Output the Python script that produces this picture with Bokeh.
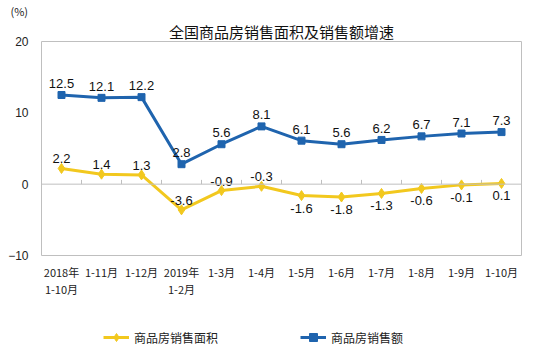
from bokeh.plotting import figure
from bokeh.layouts import column
from bokeh.models import Range1d, FixedTicker, Span, Title, Legend, LegendItem, ColumnDataSource
from bokeh.core.properties import value
from bokeh.embed import file_html
from bokeh.resources import INLINE

categories = ["2018年\n1-10月", "1-11月", "1-12月", "2019年\n1-2月", "1-3月", "1-4月",
              "1-5月", "1-6月", "1-7月", "1-8月", "1-9月", "1-10月"]
area_growth = [2.2, 1.4, 1.3, -3.6, -0.9, -0.3, -1.6, -1.8, -1.3, -0.6, -0.1, 0.1]
sales_growth = [12.5, 12.1, 12.2, 2.8, 5.6, 8.1, 6.1, 5.6, 6.2, 6.7, 7.1, 7.3]
area_label_above = [True, True, True, True, True, True, False, False, False, False, False, False]
y_ticks = [-10, 0, 10, 20]
series_names = ["商品房销售面积", "商品房销售额"]
chart_title = "全国商品房销售面积及销售额增速"
unit_text = "(%)"

GOLD = "#F2C81E"
BLUE = "#1F64AE"
NUM_FONT = "Liberation Sans"
CJK_FONT = "Noto Sans CJK SC"

n = len(categories)
xs = [i + 0.5 for i in range(n)]

p = figure(width=539, height=300, output_backend="svg", toolbar_location=None,
           x_range=Range1d(0, n), y_range=Range1d(-10, 20), title=None,
           min_border_left=41, min_border_right=18, min_border_top=41, min_border_bottom=45)
p.background_fill_color = "white"
p.border_fill_color = "white"
p.outline_line_color = "#BFBFBF"
p.outline_line_width = 1
p.grid.visible = False

main_title = Title(text=chart_title, align="center", text_font=CJK_FONT, text_font_size="15px",
                   text_font_style="normal", text_color="#111111", text_line_height=1.0,
                   standoff=0)
unit = Title(text=unit_text, align="left", offset=-31, text_font=CJK_FONT, text_font_size="11px",
             text_font_style="normal", text_color="#222222", standoff=0, text_line_height=1.0)
p.above = [main_title, unit]

# axes
p.yaxis.ticker = FixedTicker(ticks=y_ticks)
p.yaxis.axis_line_color = None
p.yaxis.major_tick_line_color = None
p.yaxis.minor_tick_line_color = None
p.yaxis.major_label_standoff = 7
p.yaxis.major_label_text_font = NUM_FONT
p.yaxis.major_label_text_font_size = "12px"
p.yaxis.major_label_text_color = "#222222"

p.xaxis.ticker = FixedTicker(ticks=xs)
p.xaxis.major_label_overrides = {x: c for x, c in zip(xs, categories)}
p.xaxis.axis_line_color = None
p.xaxis.major_tick_line_color = None
p.xaxis.minor_tick_line_color = None
p.xaxis.major_label_standoff = 2
p.xaxis.major_label_text_font = CJK_FONT
p.xaxis.major_label_text_font_size = "11px"
p.xaxis.major_label_text_line_height = 1.1
p.xaxis.major_label_text_color = "#222222"

# zero line with upward ticks at category boundaries
p.add_layout(Span(location=0, dimension="width", line_color="#BFBFBF", line_width=1))
bounds = list(range(1, n))
p.segment(x0=bounds, y0=[0] * len(bounds), x1=bounds, y1=[0.6] * len(bounds),
          line_color="#BFBFBF", line_width=1)

# series
p.line(xs, area_growth, line_color=GOLD, line_width=3)
p.scatter(xs, area_growth, marker="diamond", size=10, fill_color=GOLD, line_color=GOLD)
p.line(xs, sales_growth, line_color=BLUE, line_width=3)
p.scatter(xs, sales_growth, marker="square", size=7, fill_color=BLUE, line_color=BLUE)

# data labels
src_a = ColumnDataSource(dict(x=xs, y=area_growth,
                              t=[f"{v:.1f}" for v in area_growth],
                              off=[-5 if a else 8 for a in area_label_above],
                              base=["bottom" if a else "top" for a in area_label_above]))
p.text(x="x", y="y", text="t", y_offset="off", text_baseline="base", text_align="center",
       text_font=value(NUM_FONT), text_font_size="13px", text_color="#111111", source=src_a)
src_b = ColumnDataSource(dict(x=xs, y=sales_growth, t=[f"{v:.1f}" for v in sales_growth]))
p.text(x="x", y="y", text="t", y_offset=-7, text_baseline="bottom", text_align="center",
       text_font=value(NUM_FONT), text_font_size="13px", text_color="#111111", source=src_b)

# legend strip below the chart (series drawn out of view there; only the legend shows)
lg = figure(width=539, height=53, output_backend="svg", toolbar_location=None,
            x_range=Range1d(0, n), y_range=Range1d(100, 101), min_border=0)
lg.outline_line_color = None
lg.axis.visible = False
lg.grid.visible = False
lg.border_fill_color = "white"
a_l = lg.line(xs, area_growth, line_color=GOLD, line_width=3)
a_m = lg.scatter(xs, area_growth, marker="diamond", size=10, fill_color=GOLD, line_color=GOLD)
b_l = lg.line(xs, sales_growth, line_color=BLUE, line_width=3)
b_m = lg.scatter(xs, sales_growth, marker="square", size=7, fill_color=BLUE, line_color=BLUE)
legend = Legend(items=[LegendItem(label=series_names[0], renderers=[a_l, a_m]),
                       LegendItem(label=series_names[1], renderers=[b_l, b_m])],
                location=(62, 6), orientation="horizontal", padding=4,
                glyph_width=26, spacing=82, label_text_font=CJK_FONT,
                label_text_font_size="12px", label_text_color="#222222",
                border_line_color=None, background_fill_alpha=0)
lg.add_layout(legend)

layout = column(p, lg, spacing=0)
open("out.html", "w").write(file_html(layout, INLINE))
